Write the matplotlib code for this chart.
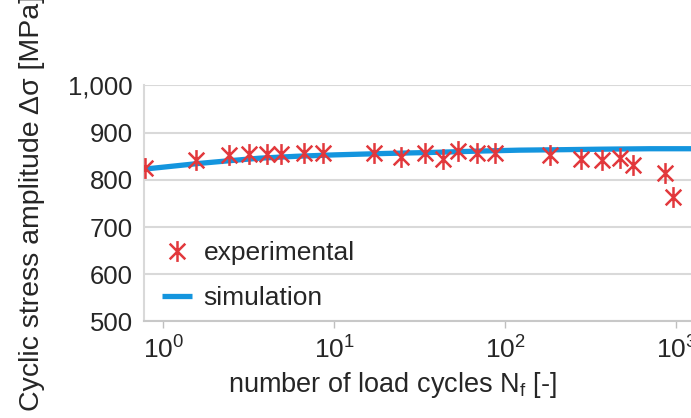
import matplotlib.pyplot as plt
from matplotlib.path import Path
from matplotlib.ticker import FuncFormatter, LogLocator, NullLocator

plt.rcParams['font.family'] = ['Liberation Sans', 'DejaVu Sans']
plt.rcParams['mathtext.fontset'] = 'custom'
plt.rcParams['mathtext.rm'] = 'Liberation Sans'
plt.rcParams['mathtext.it'] = 'Liberation Sans:italic'

# experimental points
exp_cycles = [0.78, 1.56, 2.43, 3.18, 4.01, 4.85, 6.66, 8.6, 17.0, 24.7, 33.8,
              43.3, 53, 67.9, 86.8, 182, 276, 366, 468, 559, 865, 958]
exp_stress = [825, 842, 853, 855, 855, 855, 856, 856, 856, 849, 858,
              844, 862, 856, 856, 853, 844, 842, 846, 832, 814, 764]

# simulation curve
sim_cycles = [0.78, 1.0, 1.63, 2.5, 3.67, 6.0, 10.1, 20, 36, 70, 121, 220, 356, 700, 1220]
sim_stress = [823, 827, 835, 841, 846, 850, 853, 856, 858, 861, 863, 864, 865, 866, 866]

red = '#e2383c'
blue = '#1495de'
grid_col = '#d9d9d9'
text_col = '#262626'

# excel-like asterisk: vertical bar plus a cross
star = Path([(0, -1), (0, 1), (-0.75, -0.75), (0.75, 0.75), (-0.75, 0.75), (0.75, -0.75)],
            [Path.MOVETO, Path.LINETO] * 3)

fig = plt.figure(figsize=(6.91, 4.18), dpi=100)
ax = fig.add_axes([0.2084, 0.2309, 0.7916, 0.5646])

ax.plot(sim_cycles, sim_stress, color=blue, lw=3.8, solid_capstyle='butt',
        label='simulation', zorder=3)
ax.plot(exp_cycles, exp_stress, ls='none', marker=star, ms=15, mew=1.8,
        color=red, label='experimental', zorder=4)

ax.set_xscale('log')
ax.set_xlim(0.77, 1220)
ax.set_ylim(500, 1000)
ax.set_yticks([500, 600, 700, 800, 900, 1000])
ax.yaxis.set_major_formatter(FuncFormatter(lambda v, p: f'{v:,.0f}'))
ax.xaxis.set_major_locator(LogLocator(base=10, numticks=10))
ax.xaxis.set_minor_locator(NullLocator())

ax.grid(axis='y', color=grid_col, lw=1.5)
ax.set_axisbelow(True)
for s in ['top', 'right']:
    ax.spines[s].set_visible(False)
ax.spines['left'].set_color(grid_col)
ax.spines['left'].set_linewidth(1.5)
ax.spines['bottom'].set_color('#c8c8c8')
ax.spines['bottom'].set_linewidth(1.5)

ax.tick_params(axis='y', length=0, pad=8, labelsize=18.5, labelcolor=text_col)
ax.tick_params(axis='x', length=5, width=1, color='#bfbfbf', direction='out',
               pad=6, labelsize=19, labelcolor=text_col)

ax.set_xlabel('number of load cycles N$_\\mathrm{f}$ [-]', fontsize=19.5,
              color=text_col)
ax.xaxis.set_label_coords((392 - 144) / 547, -0.205)
ax.set_ylabel('Cyclic stress amplitude Δσ [MPa]', fontsize=20.5,
              color=text_col, labelpad=17)

handles, labels = ax.get_legend_handles_labels()
ax.legend(handles[::-1], labels[::-1], loc='lower left', bbox_to_anchor=(0.0, -0.03),
          borderaxespad=0.3, frameon=False, fontsize=19, handlelength=1.1,
          handletextpad=0.45, labelspacing=0.8, labelcolor=text_col)

fig.savefig('out.png', dpi=100)
